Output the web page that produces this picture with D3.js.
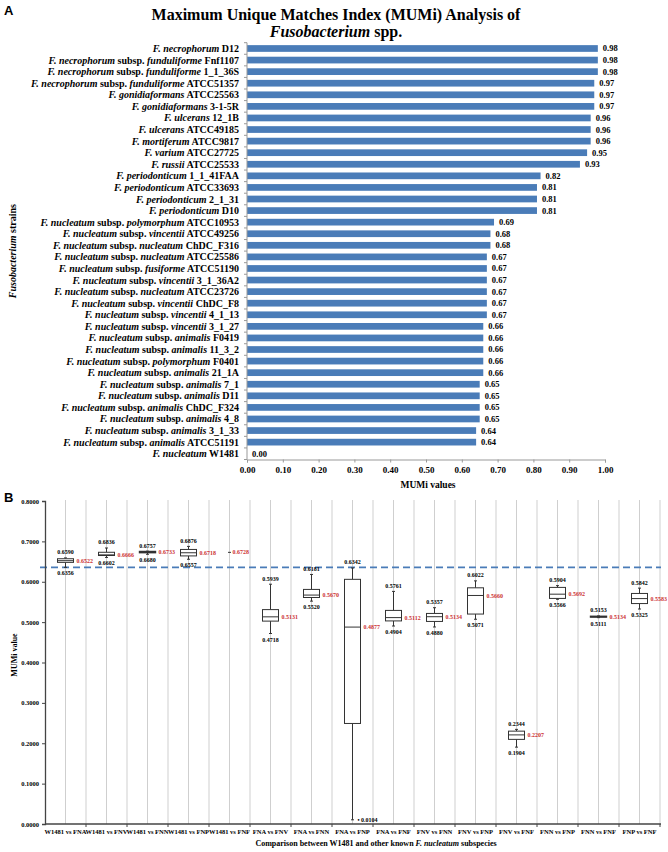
<!DOCTYPE html>
<html><head><meta charset="utf-8">
<script src="https://cdn.jsdelivr.net/npm/d3@7"></script>
<style>
body{margin:0;background:#fff;}
svg{display:block;}
text{font-family:"Liberation Serif","Times New Roman",serif;font-weight:bold;}
</style></head>
<body>
<svg id="chart" width="668" height="852"></svg>
<script>
// ---------- Panel A data ----------
const speciesNames = ["F. necrophorum","F. necrophorum","F. necrophorum","F. necrophorum","F. gonidiaformans","F. gonidiaformans","F. ulcerans","F. ulcerans","F. mortiferum","F. varium","F. russii","F. periodonticum","F. periodonticum","F. periodonticum","F. periodonticum","F. nucleatum","F. nucleatum","F. nucleatum","F. nucleatum","F. nucleatum","F. nucleatum","F. nucleatum","F. nucleatum","F. nucleatum","F. nucleatum","F. nucleatum","F. nucleatum","F. nucleatum","F. nucleatum","F. nucleatum","F. nucleatum","F. nucleatum","F. nucleatum","F. nucleatum","F. nucleatum","F. nucleatum"];
const subspeciesNames = ["","funduliforme","funduliforme","funduliforme","","","","","","","","","","","","polymorphum","vincentii","nucleatum","nucleatum","fusiforme","vincentii","nucleatum","vincentii","vincentii","vincentii","animalis","animalis","polymorphum","animalis","animalis","animalis","animalis","animalis","animalis","animalis",""];
const strainIds = ["D12","Fnf1107","1_1_36S","ATCC51357","ATCC25563","3-1-5R","12_1B","ATCC49185","ATCC9817","ATCC27725","ATCC25533","1_1_41FAA","ATCC33693","2_1_31","D10","ATCC10953","ATCC49256","ChDC_F316","ATCC25586","ATCC51190","3_1_36A2","ATCC23726","ChDC_F8","4_1_13","3_1_27","F0419","11_3_2","F0401","21_1A","7_1","D11","ChDC_F324","4_8","3_1_33","ATCC51191","W1481"];
const mumiValues = [0.98,0.98,0.98,0.97,0.97,0.97,0.96,0.96,0.96,0.95,0.93,0.82,0.81,0.81,0.81,0.69,0.68,0.68,0.67,0.67,0.67,0.67,0.67,0.67,0.66,0.66,0.66,0.66,0.66,0.65,0.65,0.65,0.65,0.64,0.64,0.00];
const aTicks = [0,0.1,0.2,0.3,0.4,0.5,0.6,0.7,0.8,0.9,1.0];

// ---------- Panel B data ----------
const comparisons = ["W1481 vs FNA","W1481 vs FNV","W1481 vs FNN","W1481 vs FNP","W1481 vs FNF","FNA vs FNV","FNA vs FNN","FNA vs FNP","FNA vs FNF","FNV vs FNN","FNV vs FNP","FNV vs FNF","FNN vs FNP","FNN vs FNF","FNP vs FNF"];
const boxMin    = [0.6356,0.6602,0.6680,0.6557,0.6728,0.4718,0.5520,0.0104,0.4904,0.4880,0.5071,0.1904,0.5566,0.5111,0.5325];
const boxQ1     = [0.6480,0.6650,0.6720,0.6640,0.6728,0.5025,0.5610,0.2490,0.5030,0.5017,0.5200,0.2096,0.5587,0.5125,0.5460];
const boxMedian = [0.6522,0.6666,0.6733,0.6718,0.6728,0.5131,0.5670,0.4877,0.5112,0.5134,0.5660,0.2207,0.5692,0.5134,0.5583];
const boxQ3     = [0.6570,0.6730,0.6750,0.6800,0.6728,0.5310,0.5810,0.6060,0.5290,0.5215,0.5850,0.2300,0.5860,0.5145,0.5710];
const boxMax    = [0.6590,0.6836,0.6757,0.6876,0.6728,0.5939,0.6181,0.6342,0.5761,0.5357,0.6022,0.2344,0.5904,0.5153,0.5842];
const bTicks = [0,0.1,0.2,0.3,0.4,0.5,0.6,0.7,0.8];
const thresholdValue = 0.6356;

const svg = d3.select("#chart");
svg.append("rect").attr("width",668).attr("height",852).attr("fill","#fff");

const barColor = "#4a7cb8";
const fmt2 = d3.format(".2f"), fmt4 = d3.format(".4f");

// ================= PANEL A =================
svg.append("text").attr("x",4).attr("y",15).text("A")
  .style("font-family","'Liberation Sans',Arial,sans-serif").style("font-size","13px");
svg.append("text").attr("x",336).attr("y",20).attr("text-anchor","middle")
  .style("font-size","16px").text("Maximum Unique Matches Index (MUMi) Analysis of");
const t2 = svg.append("text").attr("x",336).attr("y",37).attr("text-anchor","middle").style("font-size","16px");
t2.append("tspan").style("font-style","italic").text("Fusobacterium");
t2.append("tspan").text(" spp.");

const idx = d3.range(mumiValues.length);
const aX = d3.scaleLinear().domain([0,1]).range([247,605]);
const aY = d3.scaleBand().domain(idx).range([42.7,459.5]).paddingInner(0.42).paddingOuter(0.21);
const step = aY.step();

const gA = svg.append("g");
gA.selectAll("rect.bar").data(idx).join("rect").attr("class","bar")
  .attr("x",aX(0)).attr("y",i=>aY(i)).attr("height",aY.bandwidth())
  .attr("width",i=>aX(mumiValues[i])-aX(0)).attr("fill",barColor);
gA.selectAll("text.val").data(idx).join("text").attr("class","val")
  .attr("x",i=>aX(mumiValues[i])+5).attr("y",i=>aY(i)+aY.bandwidth()/2).attr("dy","0.35em")
  .style("font-size","8.5px").text(i=>fmt2(mumiValues[i]));

// category labels
const lab = gA.selectAll("text.cat").data(idx).join("text").attr("class","cat")
  .attr("x",239).attr("y",i=>aY(i)+aY.bandwidth()/2).attr("dy","0.35em")
  .attr("text-anchor","end").style("font-size","10px");
lab.each(function(i){
  const t = d3.select(this);
  t.append("tspan").style("font-style","italic").text(speciesNames[i]);
  if (subspeciesNames[i]) {
    t.append("tspan").text(" subsp. ");
    t.append("tspan").style("font-style","italic").text(subspeciesNames[i]);
  }
  t.append("tspan").text(" " + strainIds[i]);
});

// y axis line + ticks at band boundaries
const yTop = aY.range()[0], yBot = aY.range()[1];
gA.append("line").attr("x1",aX(0)).attr("x2",aX(0)).attr("y1",yTop).attr("y2",yBot).attr("stroke","#999");
gA.selectAll("line.ytk").data(d3.range(mumiValues.length+1)).join("line").attr("class","ytk")
  .attr("x1",aX(0)-3).attr("x2",aX(0)).attr("y1",k=>yTop+k*step).attr("y2",k=>yTop+k*step).attr("stroke","#999");

// x axis
const axA = gA.append("g").attr("transform",`translate(0,${yBot})`)
  .call(d3.axisBottom(aX).tickValues(aTicks).tickFormat(fmt2).tickSize(3).tickPadding(4));
axA.select(".domain").attr("stroke","#999");
axA.selectAll(".tick line").attr("stroke","#999");
axA.selectAll("text").style("font-size","9px").style("font-family","'Liberation Serif',serif").style("font-weight","bold").attr("fill","#000");
gA.append("text").attr("x",428).attr("y",488).attr("text-anchor","middle").style("font-size","9.5px").text("MUMi values");
const yl = gA.append("text").attr("transform",`translate(16,${(yTop+yBot)/2}) rotate(-90)`).attr("text-anchor","middle").style("font-size","10px");
yl.append("tspan").style("font-style","italic").text("Fusobacterium");
yl.append("tspan").text(" strains");

// ================= PANEL B =================
svg.append("text").attr("x",4).attr("y",502).text("B")
  .style("font-family","'Liberation Sans',Arial,sans-serif").style("font-size","13px");

const bX = d3.scaleBand().domain(comparisons).range([45,660]);
const bY = d3.scaleLinear().domain([0,0.8]).range([824,501]);
const bw = bX.bandwidth();
const gB = svg.append("g");

// vertical gridlines at half-category spacing
const gridX = [];
comparisons.forEach(c=>{ gridX.push(bX(c)+bw/2); gridX.push(bX(c)+bw); });
gB.selectAll("line.grid").data(gridX).join("line").attr("class","grid")
  .attr("x1",d=>d).attr("x2",d=>d).attr("y1",bY(0.8)-1).attr("y2",bY(0))
  .attr("stroke","#cfcfcf").attr("stroke-width",1);

// threshold dashed line
gB.append("line").attr("x1",40).attr("x2",661).attr("y1",bY(thresholdValue)).attr("y2",bY(thresholdValue))
  .attr("stroke","#4a7cb8").attr("stroke-width",1.6).attr("stroke-dasharray","7,4");

// axes
const axBY = gB.append("g").attr("transform","translate(45,0)")
  .call(d3.axisLeft(bY).tickValues(bTicks).tickFormat(fmt4).tickSize(3).tickPadding(3));
axBY.select(".domain").attr("stroke","#444").attr("stroke-width",1.3);
axBY.selectAll(".tick line").attr("stroke","#444");
axBY.selectAll("text").style("font-size","6.5px").style("font-family","'Liberation Serif',serif").style("font-weight","bold").attr("fill","#000");

gB.append("line").attr("x1",45).attr("x2",661).attr("y1",bY(0)).attr("y2",bY(0)).attr("stroke","#444").attr("stroke-width",1.3);
gB.selectAll("line.xtk").data(comparisons).join("line").attr("class","xtk")
  .attr("x1",c=>bX(c)+bw).attr("x2",c=>bX(c)+bw).attr("y1",bY(0)).attr("y2",bY(0)+3).attr("stroke","#444");
gB.selectAll("text.xl").data(comparisons).join("text").attr("class","xl")
  .attr("x",c=>bX(c)+bw/2).attr("y",834).attr("text-anchor","middle").style("font-size","6.5px").text(c=>c);

const xt = gB.append("text").attr("x",376).attr("y",846).attr("text-anchor","middle").style("font-size","8px");
xt.append("tspan").text("Comparison between W1481 and other known ");
xt.append("tspan").style("font-style","italic").text("F. nucleatum");
xt.append("tspan").text(" subspecies");
gB.append("text").attr("transform",`translate(17,655) rotate(-90)`).attr("text-anchor","middle").style("font-size","8px").text("MUMi value");

// boxes
const boxW = 16;
const boxes = gB.selectAll("g.box").data(d3.range(comparisons.length)).join("g").attr("class","box")
  .attr("transform",i=>`translate(${bX(comparisons[i])+bw/2},0)`);
boxes.each(function(i){
  const g = d3.select(this);
  const single = boxMin[i]===boxMax[i];
  if (single) {
    g.append("line").attr("x1",-1.5).attr("x2",1.5).attr("y1",bY(boxMedian[i])).attr("y2",bY(boxMedian[i])).attr("stroke","#333").attr("stroke-width",1);
    g.append("text").attr("x",3).attr("y",bY(boxMedian[i])).attr("dy","0.35em").attr("fill","#cc3333").style("font-size","6px").text(fmt4(boxMedian[i]));
    return;
  }
  const st = "#333";
  const thin = (bY(boxQ1[i])-bY(boxQ3[i])) < 2;
  g.append("line").attr("x1",0).attr("x2",0).attr("y1",bY(boxMax[i])).attr("y2",bY(boxQ3[i])).attr("stroke",st);
  g.append("line").attr("x1",0).attr("x2",0).attr("y1",bY(boxQ1[i])).attr("y2",bY(boxMin[i])).attr("stroke",st);
  g.append("line").attr("x1",-1.5).attr("x2",1.5).attr("y1",bY(boxMax[i])).attr("y2",bY(boxMax[i])).attr("stroke",st);
  g.append("line").attr("x1",-1.5).attr("x2",1.5).attr("y1",bY(boxMin[i])).attr("y2",bY(boxMin[i])).attr("stroke",st);
  g.append("rect").attr("x",-boxW/2).attr("width",boxW).attr("y",bY(boxQ3[i])).attr("height",Math.max(0,bY(boxQ1[i])-bY(boxQ3[i])))
    .attr("fill",thin?"#222":"#fff").attr("stroke",st).attr("stroke-width",thin?1.4:1);
  g.append("line").attr("x1",-boxW/2).attr("x2",boxW/2).attr("y1",bY(boxMedian[i])).attr("y2",bY(boxMedian[i])).attr("stroke",st);
  g.append("text").attr("x",boxW/2+3).attr("y",bY(boxMedian[i])).attr("dy","0.35em").attr("fill","#cc3333").style("font-size","6px").text(fmt4(boxMedian[i]));
  g.append("text").attr("x",0).attr("y",bY(boxMax[i])-3.5).attr("text-anchor","middle").style("font-size","6px").text(fmt4(boxMax[i]));
  if (bY(boxMin[i])+10 > bY(0)) {
    g.append("text").attr("x",5).attr("y",bY(boxMin[i])).attr("dy","0.35em").style("font-size","6px").text("\u2022 " + fmt4(boxMin[i]));
  } else {
    g.append("text").attr("x",0).attr("y",bY(boxMin[i])+8).attr("text-anchor","middle").style("font-size","6px").text(fmt4(boxMin[i]));
  }
});
</script>
</body></html>
